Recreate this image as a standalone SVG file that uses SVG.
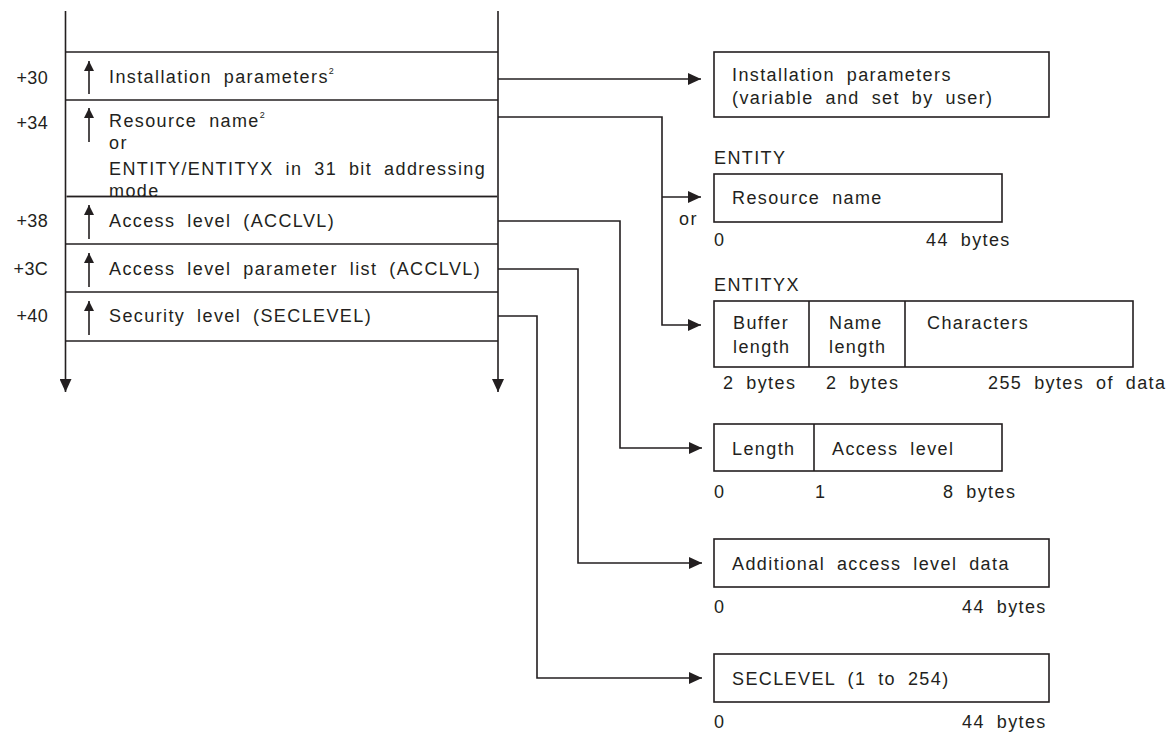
<svg xmlns="http://www.w3.org/2000/svg" width="1168" height="732" viewBox="0 0 1168 732">
<style>
text{font-family:"Liberation Sans",Arial,sans-serif;font-size:18px;fill:#231f20;letter-spacing:1.4px;word-spacing:5.5px}
.sup{font-size:9px;letter-spacing:0}
.ln{fill:none;stroke:#231f20;stroke-width:1.6}
.box{fill:#fff;stroke:#231f20;stroke-width:1.6}
.off{text-anchor:end;letter-spacing:0.3px}
</style>
<defs>
<marker id="ah" markerUnits="userSpaceOnUse" markerWidth="14" markerHeight="12" refX="13" refY="6" orient="auto">
<path d="M0,0 L13,6 L0,12 Z" fill="#231f20"/>
</marker>
<marker id="sa" markerUnits="userSpaceOnUse" markerWidth="11" markerHeight="11" refX="10" refY="5" orient="auto">
<path d="M0,0 L10,5 L0,10 Z" fill="#231f20"/>
</marker>
</defs>

<g id="control-block">
<text class="off" x="48" y="84">+30</text>
<text class="off" x="48" y="129">+34</text>
<text class="off" x="48" y="227">+38</text>
<text class="off" x="48" y="275">+3C</text>
<text class="off" x="48" y="322">+40</text>
<text x="109" y="83">Installation parameters<tspan class="sup" dy="-9">2</tspan></text>
<text x="109" y="127">Resource name<tspan class="sup" dy="-9">2</tspan></text>
<text x="109" y="149">or</text>
<text x="109" y="175">ENTITY/ENTITYX in 31 bit addressing</text>
<text x="109" y="197">mode</text>
<text x="109" y="227">Access level (ACCLVL)</text>
<text x="109" y="275">Access level parameter list (ACCLVL)</text>
<text x="109" y="322">Security level (SECLEVEL)</text>
<line class="ln" x1="65.5" y1="11" x2="65.5" y2="392" marker-end="url(#ah)"/>
<line class="ln" x1="498" y1="11" x2="498" y2="392" marker-end="url(#ah)"/>
<line class="ln" x1="65.5" y1="52" x2="498" y2="52"/>
<line class="ln" x1="65.5" y1="100" x2="498" y2="100"/>
<rect x="66.5" y="195.6" width="430.7" height="1.8" fill="#231f20"/>
<line class="ln" x1="65.5" y1="244" x2="498" y2="244"/>
<line class="ln" x1="65.5" y1="292" x2="498" y2="292"/>
<line class="ln" x1="65.5" y1="341" x2="498" y2="341"/>
<line class="ln" x1="89" y1="94" x2="89" y2="61" marker-end="url(#sa)"/>
<line class="ln" x1="89" y1="142" x2="89" y2="108" marker-end="url(#sa)"/>
<line class="ln" x1="89" y1="239" x2="89" y2="205" marker-end="url(#sa)"/>
<line class="ln" x1="89" y1="287" x2="89" y2="253" marker-end="url(#sa)"/>
<line class="ln" x1="89" y1="335" x2="89" y2="301" marker-end="url(#sa)"/>
</g>

<g id="connectors">
<polyline class="ln" points="498,79 701,79" marker-end="url(#ah)"/>
<polyline class="ln" points="498,117 662,117 662,325 701,325" marker-end="url(#ah)"/>
<polyline class="ln" points="662,197 701,197" marker-end="url(#ah)"/>
<polyline class="ln" points="498,221 620,221 620,448 702,448" marker-end="url(#ah)"/>
<polyline class="ln" points="498,269 578,269 578,563 702,563" marker-end="url(#ah)"/>
<polyline class="ln" points="498,316 537,316 537,678 702,678" marker-end="url(#ah)"/>
<text x="679" y="225">or</text>
</g>

<g id="installation-box">
<rect class="box" x="714" y="52" width="335" height="65"/>
<text x="732" y="81">Installation parameters</text>
<text x="732" y="104">(variable and set by user)</text>
</g>

<g id="entity">
<text x="714" y="164">ENTITY</text>
<rect class="box" x="714" y="174" width="288" height="48"/>
<text x="732" y="204">Resource name</text>
<text x="714" y="246">0</text>
<text x="926" y="246">44 bytes</text>
</g>

<g id="entityx">
<text x="714" y="291">ENTITYX</text>
<rect class="box" x="714" y="301" width="419" height="66"/>
<line class="ln" x1="809" y1="301" x2="809" y2="367"/>
<line class="ln" x1="905" y1="301" x2="905" y2="367"/>
<text x="733" y="329">Buffer</text>
<text x="733" y="353">length</text>
<text x="829" y="329">Name</text>
<text x="829" y="353">length</text>
<text x="927" y="329">Characters</text>
<text x="723" y="389">2 bytes</text>
<text x="826" y="389">2 bytes</text>
<text x="988" y="389">255 bytes of data</text>
</g>

<g id="access-level">
<rect class="box" x="714" y="424" width="288" height="47"/>
<line class="ln" x1="814" y1="424" x2="814" y2="471"/>
<text x="732" y="455">Length</text>
<text x="832" y="455">Access level</text>
<text x="714" y="498">0</text>
<text x="815" y="498">1</text>
<text x="943" y="498">8 bytes</text>
</g>

<g id="additional-data">
<rect class="box" x="714" y="539" width="335" height="48"/>
<text x="732" y="570">Additional access level data</text>
<text x="714" y="613">0</text>
<text x="962" y="613">44 bytes</text>
</g>

<g id="seclevel">
<rect class="box" x="714" y="654" width="335" height="48"/>
<text x="732" y="685">SECLEVEL (1 to 254)</text>
<text x="714" y="728">0</text>
<text x="962" y="728">44 bytes</text>
</g>
</svg>
